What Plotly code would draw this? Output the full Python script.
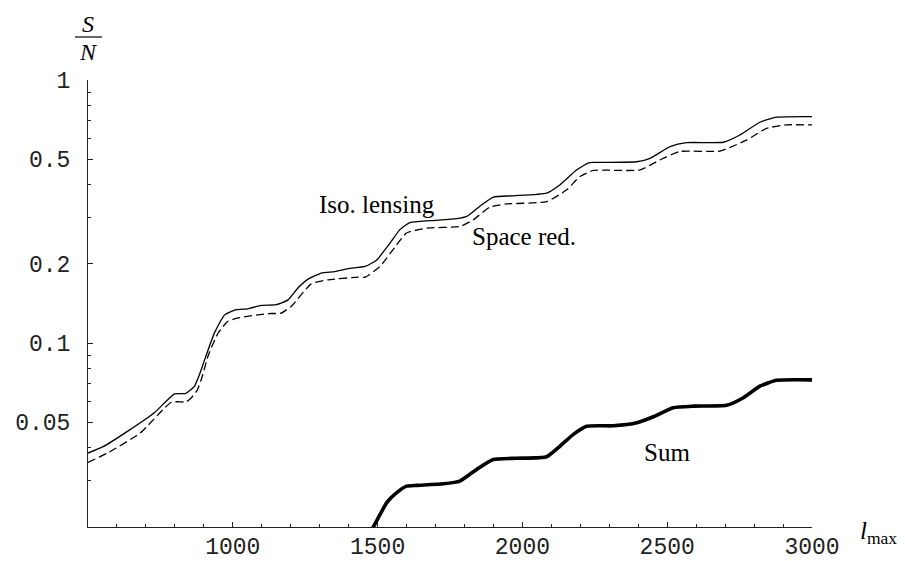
import plotly.graph_objects as go
import math

# ---- data ----
iso_x = [500, 552, 640, 730, 799, 838, 868, 885, 903, 937, 972, 1012, 1052, 1098, 1150, 1191,
         1225, 1260, 1306, 1352, 1398, 1457, 1497, 1543, 1577, 1612, 1681, 1773, 1808,
         1854, 1900, 1968, 2084, 2130, 2187, 2227, 2245, 2395, 2441, 2510, 2567, 2694,
         2751, 2820, 2878, 3000]
iso_y = [0.0382, 0.0404, 0.0465, 0.0545, 0.0641, 0.0644, 0.0686, 0.0760, 0.0866, 0.1096, 0.128,
         0.134, 0.135, 0.139, 0.140, 0.146, 0.162, 0.175, 0.1846, 0.187, 0.192, 0.1956,
         0.207, 0.240, 0.270, 0.287, 0.292, 0.297, 0.303, 0.332, 0.359, 0.363, 0.3715,
         0.400, 0.455, 0.483, 0.486, 0.489, 0.504, 0.558, 0.578, 0.580, 0.618, 0.691,
         0.722, 0.726]

red_x = [500, 569, 680, 788, 839, 857, 878, 895, 914, 949, 983, 1018, 1122, 1167, 1202, 1271, 1329,
         1432, 1457, 1508, 1566, 1600, 1669, 1784, 1830, 1888, 1946, 2084, 2153, 2199,
         2245, 2406, 2475, 2544, 2682, 2775, 2844, 2913, 3000]
red_y = [0.0352, 0.0383, 0.0455, 0.0596, 0.0598, 0.0620, 0.0665, 0.0750, 0.089, 0.109, 0.121, 0.1246,
         0.1295, 0.130, 0.138, 0.168, 0.174, 0.178, 0.178, 0.1956, 0.2365, 0.262, 0.2735,
         0.2775, 0.294, 0.329, 0.338, 0.345, 0.3825, 0.430, 0.453, 0.455, 0.497, 0.535,
         0.537, 0.592, 0.6556, 0.675, 0.675]

sum_x = [1460, 1485, 1531, 1566, 1600, 1635, 1727, 1784, 1842, 1899, 1980, 2084, 2130,
         2176, 2222, 2314, 2395, 2452, 2521, 2590, 2705, 2763, 2820, 2878, 3000]
sum_y = [0.0185, 0.0200, 0.0247, 0.0270, 0.0286, 0.0288, 0.0292, 0.0299, 0.0331, 0.0361,
         0.0365, 0.0370, 0.0406, 0.0450, 0.0483, 0.0485, 0.0498, 0.0525, 0.0568, 0.0576,
         0.0580, 0.0620, 0.0686, 0.0722, 0.0725]

x_major = [1000, 1500, 2000, 2500, 3000]
x_major_text = ["1000", "1500", "2000", "2500", "3000"]
y_major = [0.05, 0.1, 0.2, 0.5, 1]
y_major_text = ["0.05", "0.1", "0.2", "0.5", "1"]
y_minor = [0.03, 0.04, 0.06, 0.07, 0.08, 0.09, 0.3, 0.4, 0.6, 0.7, 0.8, 0.9]

# ---- figure ----
OFF = 8  # default page body margin
W, H = 905 - OFF, 561 - OFF
# plot area in page pixels
PL, PR, PT, PB = 88, 812, 80, 527
L, R, T, B = PL - OFF, PR - OFF, PT - OFF, PB - OFF

fig = go.Figure()
fig.add_trace(go.Scatter(x=iso_x, y=iso_y, mode="lines",
                         line=dict(color="black", width=1.3, shape="spline", smoothing=0.5),
                         showlegend=False, hoverinfo="skip"))
fig.add_trace(go.Scatter(x=red_x, y=red_y, mode="lines",
                         line=dict(color="black", width=1.3, dash="8px,4px", shape="spline", smoothing=0.5),
                         showlegend=False, hoverinfo="skip"))
fig.add_trace(go.Scatter(x=sum_x, y=sum_y, mode="lines",
                         line=dict(color="black", width=3.6, shape="spline", smoothing=0.5),
                         showlegend=False, hoverinfo="skip"))

tickfont = dict(family="Liberation Mono, Courier New, monospace", size=23, color="#222")

fig.update_xaxes(range=[500, 3000], showgrid=False, zeroline=False, showline=True, linecolor="#222", linewidth=1,
                 ticks="inside", ticklen=5, tickwidth=1, tickcolor="#222",
                 tickvals=x_major, ticktext=x_major_text, tickfont=tickfont,
                 minor=dict(dtick=100, tick0=500, ticks="inside", ticklen=3, tickcolor="#222", showgrid=False),
                 mirror=False, ticklabelstandoff=-2)
fig.update_yaxes(type="log", range=[math.log10(0.02), 0], showgrid=False, zeroline=False, showline=True,
                 linecolor="#222", linewidth=1, ticks="inside", ticklen=5, tickwidth=1, tickcolor="#222",
                 tickvals=y_major, ticktext=y_major_text, tickfont=tickfont,
                 minor=dict(tickvals=y_minor, ticks="inside", ticklen=3, tickcolor="#222", showgrid=False),
                 mirror=False, ticklabelstandoff=12)

def px(xp):  # page pixel x -> paper fraction
    return (xp - PL) / (PR - PL)

def py(yp):  # page pixel y -> paper fraction
    return (PB - yp) / (PB - PT)

serif = "Liberation Serif, Times New Roman, serif"
ann = []
ann.append(dict(text="Iso. lensing", x=px(377), y=py(204), font=dict(family=serif, size=25, color="black")))
ann.append(dict(text="Space red.", x=px(524), y=py(236), font=dict(family=serif, size=25, color="black")))
ann.append(dict(text="Sum", x=px(667), y=py(452), font=dict(family=serif, size=25, color="black")))
ann.append(dict(text="<i>S</i>", x=px(88), y=py(24), font=dict(family=serif, size=24, color="black")))
ann.append(dict(text="<i>N</i>", x=px(88), y=py(52), font=dict(family=serif, size=24, color="black")))
ann.append(dict(text="<i>l</i><sub>max</sub>", x=px(859), y=py(532), xanchor="left",
                font=dict(family=serif, size=25, color="black")))
for a in ann:
    a.setdefault("xanchor", "center")
    a.update(xref="paper", yref="paper", showarrow=False, yanchor="middle", borderpad=0)

fig.update_layout(
    width=W, height=H,
    margin=dict(l=L, r=W - R, t=T, b=H - B, pad=0, autoexpand=False),
    paper_bgcolor="white", plot_bgcolor="white",
    annotations=ann,
    shapes=[dict(type="line", xref="paper", yref="paper", x0=px(75), x1=px(102), y0=py(37), y1=py(37),
                 line=dict(color="black", width=1.2))],
)

fig.write_html("out.html")
